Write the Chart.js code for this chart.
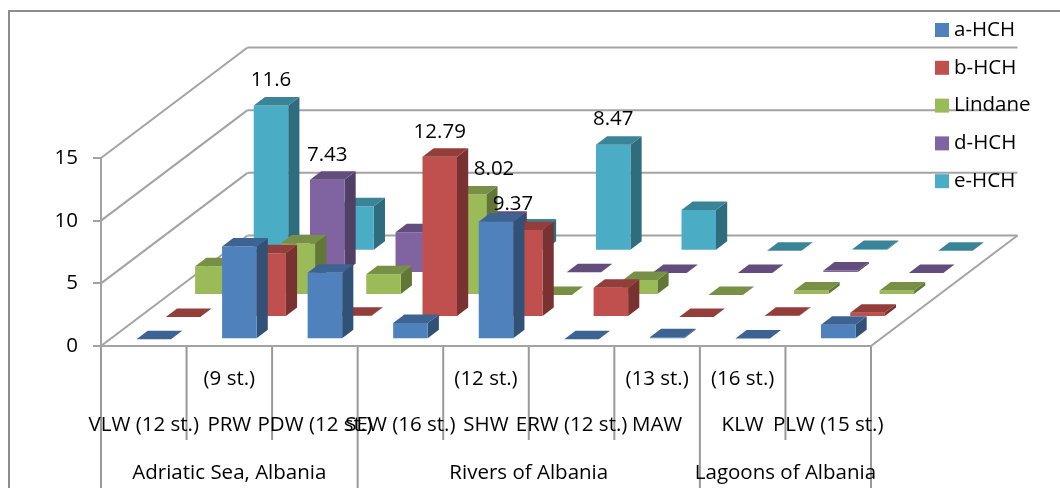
<!DOCTYPE html>
<html>
<head>
<meta charset="utf-8">
<script src="https://cdn.jsdelivr.net/npm/chart.js@4"></script>
<style>
  html, body { margin: 0; padding: 0; background: #fff; }
  #wrap { width: 1060px; height: 488px; }
</style>
</head>
<body>
<div id="wrap"><canvas id="chart" width="1060" height="488"></canvas></div>
<script>
// HCH concentrations per water body
const categories = [
  ["", "VLW (12 st.)"], ["(9 st.)", "PRW"], ["", "PDW (12 st.)"],
  ["", "SEW (16 st.)"], ["(12 st.)", "SHW"], ["", "ERW (12 st.)"],
  ["(13 st.)", "MAW"], ["(16 st.)", "KLW"], ["", "PLW (15 st.)"],
];
const groupNames = ["Adriatic Sea, Albania", "Rivers of Albania", "Lagoons of Albania"];
const groupSizes = [3, 4, 2];
const yTicks = [0, 5, 10, 15];

const seriesNames = ["a-HCH", "b-HCH", "Lindane", "d-HCH", "e-HCH"];
const aHch = [0, 7.4, 5.3, 1.3, 9.37, 0, 0.15, 0.05, 1.15];
const bHch = [0, 5.1, 0.1, 12.79, 6.95, 2.35, 0, 0.1, 0.35];
const lindane = [2.3, 4.1, 1.65, 8.02, 0, 1.2, 0, 0.35, 0.35];
const dHch = [0, 7.43, 3.25, 4.25, 0.05, 0, 0, 0.2, 0];
const eHch = [11.6, 3.55, 0, 1.85, 8.47, 3.25, 0, 0.15, 0];
const seriesValues = [aHch, bHch, lindane, dHch, eHch];
const seriesColors = ["#4F81BD", "#C0504D", "#9BBB59", "#8064A2", "#4BACC6"];

// [series, category, extra x, extra y] for the bars that carry a value label
const valueLabels = [
  [4, 0, 0, 0], [3, 1, 0, 0], [1, 3, 0, 0],
  [2, 3, 25, 0], [0, 4, 17, 7], [4, 4, 0, 0],
];

const FONT = '"Open Sans", sans-serif';
const FONT_SIZE = 20.5;
const LINE = "#a3a3a3";
const FRAME = "#8c8c8c";

// oblique projection of the floor
const STEP_X = 29.3, STEP_Y = 22.1;      // one series row deeper
const BAR_DX = 11.2, BAR_DY = 8.5;       // depth of a single bar
const BAR_W = 34.5;

function shade(hex, k) {
  const n = parseInt(hex.slice(1), 16);
  const c = [n >> 16, (n >> 8) & 255, n & 255].map((v) => Math.round(v * k));
  return "rgb(" + c.join(",") + ")";
}

function segment(ctx, x1, y1, x2, y2) {
  ctx.beginPath();
  ctx.moveTo(x1, y1);
  ctx.lineTo(x2, y2);
  ctx.stroke();
}

function poly(ctx, pts, color) {
  ctx.fillStyle = color;
  ctx.beginPath();
  pts.forEach((p, i) => (i ? ctx.lineTo(p[0], p[1]) : ctx.moveTo(p[0], p[1])));
  ctx.closePath();
  ctx.fill();
}

// front-face box of a bar element after shifting it back to its series row
function barBox(bar, row) {
  const left = bar.x + 10 + row * STEP_X - BAR_W / 2;
  const shift = (STEP_Y - BAR_DY) / 2 + row * STEP_Y;
  return { left, right: left + BAR_W, top: bar.y - shift, bottom: bar.base - shift };
}

const scene3d = {
  id: "scene3d",
  // chart frame, walls and floor sit behind the axis text
  beforeDraw(chart) {
    const { ctx, scales } = chart;
    const { y: ys } = scales;
    const left = chart.chartArea.left, right = chart.chartArea.right;
    const zero = ys.getPixelForValue(0);
    const deepX = STEP_X * seriesNames.length, deepY = STEP_Y * seriesNames.length;
    ctx.save();

    ctx.strokeStyle = FRAME;
    ctx.lineWidth = 2;
    ctx.strokeRect(9, 11, 1200, 700);

    ctx.strokeStyle = LINE;
    yTicks.forEach((t) => {
      const y = ys.getPixelForValue(t);
      segment(ctx, left, y, left + deepX, y - deepY);
      segment(ctx, left + deepX, y - deepY, right + deepX, y - deepY);
    });
    segment(ctx, right, zero, right + deepX, zero - deepY);

    // category separators, longer where a group ends
    const cat = (right - left) / categories.length;
    const groupEnds = [0];
    groupSizes.forEach((n) => groupEnds.push(groupEnds[groupEnds.length - 1] + n));
    ctx.strokeStyle = "#999";
    for (let i = 0; i <= categories.length; i++) {
      const x = left + i * cat;
      segment(ctx, x, zero, x, groupEnds.includes(i) ? 488 : 440);
    }
    ctx.restore();
  },
  // bars as oblique boxes, back row first; returning false skips the flat bars
  beforeDatasetsDraw(chart) {
    const { ctx } = chart;
    ctx.save();
    for (let row = seriesValues.length - 1; row >= 0; row--) {
      const color = seriesColors[row];
      chart.getDatasetMeta(row).data.forEach((bar) => {
        const b = barBox(bar, row);
        if (b.bottom - b.top > 0.2) {
          poly(ctx, [[b.right, b.top], [b.right + BAR_DX, b.top - BAR_DY],
            [b.right + BAR_DX, b.bottom - BAR_DY], [b.right, b.bottom]], shade(color, 0.63));
          poly(ctx, [[b.left, b.top], [b.right, b.top], [b.right, b.bottom], [b.left, b.bottom]], color);
        }
        poly(ctx, [[b.left, b.top], [b.left + BAR_DX, b.top - BAR_DY],
          [b.right + BAR_DX, b.top - BAR_DY], [b.right, b.top]], shade(color, 0.77));
      });
    }
    ctx.restore();
    return false;
  },
  afterDraw(chart) {
    const { ctx, scales } = chart;
    ctx.save();
    ctx.fillStyle = "#000";
    ctx.font = FONT_SIZE + "px " + FONT;
    ctx.textBaseline = "middle";

    ctx.textAlign = "center";
    valueLabels.forEach(([row, col, nudgeX, nudgeY]) => {
      const b = barBox(chart.getDatasetMeta(row).data[col], row);
      const text = String(seriesValues[row][col]);
      ctx.fillText(text, (b.left + b.right) / 2 + nudgeX, b.top - 25 + nudgeY);
    });

    // group captions under their categories
    const cat = scales.x.width / categories.length;
    let start = 0;
    groupNames.forEach((name, i) => {
      const mid = scales.x.left + (start + groupSizes[i] / 2) * cat;
      ctx.fillText(name, mid, 473);
      start += groupSizes[i];
    });

    // legend column
    ctx.textAlign = "left";
    seriesNames.forEach((name, i) => {
      const y = 30 + i * 37.8;
      ctx.fillStyle = seriesColors[i];
      ctx.fillRect(935, y - 7, 14, 14);
      ctx.fillStyle = "#000";
      ctx.fillText(name, 954, y);
    });
    ctx.restore();
  },
};

new Chart(document.getElementById("chart"), {
  type: "bar",
  data: {
    labels: categories,
    datasets: seriesNames.map((name, i) => ({
      label: name,
      data: seriesValues[i],
      backgroundColor: seriesColors[i],
      grouped: false,
      barThickness: BAR_W,
    })),
  },
  options: {
    responsive: false,
    animation: false,
    layout: { padding: { top: 158, left: 0, right: 189, bottom: 0 } },
    plugins: { legend: { display: false }, tooltip: { enabled: false } },
    scales: {
      x: {
        afterFit: (scale) => { scale.height = 142; },
        grid: { display: false },
        border: { color: LINE, width: 2 },
        ticks: {
          autoSkip: false,
          maxRotation: 0,
          padding: 2,
          color: "#000",
          font: { family: FONT, size: FONT_SIZE, lineHeight: "46px" },
        },
      },
      y: {
        min: yTicks[0],
        max: yTicks[yTicks.length - 1],
        afterFit: (scale) => { scale.width = 101; },
        grid: { drawOnChartArea: false, tickLength: 8, color: LINE, lineWidth: 2 },
        border: { color: LINE, width: 2 },
        ticks: {
          stepSize: yTicks[1] - yTicks[0],
          padding: 15,
          color: "#000",
          font: { family: FONT, size: FONT_SIZE },
        },
      },
    },
  },
  plugins: [scene3d],
});
</script>
</body>
</html>
